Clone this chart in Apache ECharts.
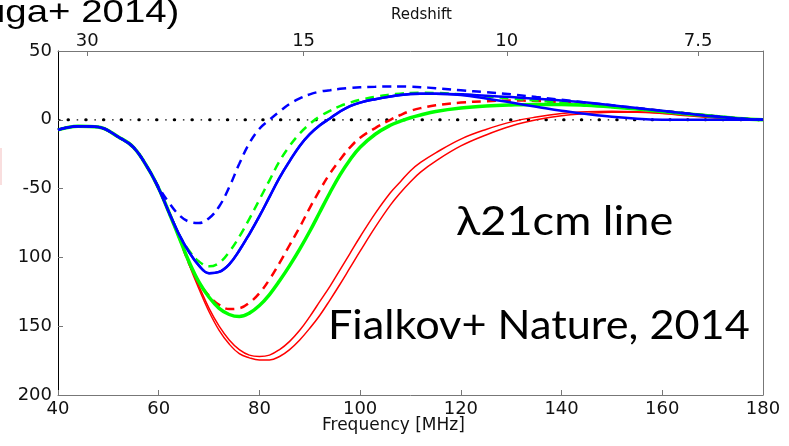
<!DOCTYPE html>
<html>
<head>
<meta charset="utf-8">
<script src="https://cdn.jsdelivr.net/npm/echarts@6/dist/echarts.min.js"></script>
<style>html,body{margin:0;padding:0;background:#fff;}#c{width:789px;height:446px;}</style>
</head>
<body>
<div id="c"></div>
<script>
// ---- data ----
const freq = [40,44,48,52,55,58,60,62,64,66,68,70,72,74,76,78,80,82,84,86,88,90,92,94,96,98,100,103,106,108,110,112,115,120,125,130,135,140,145,150,155,160,165,170,175,180];

const blueDashed = [-7.3,-4.6,-5.3,-12.5,-20,-36,-49,-60,-69,-74,-75,-71.5,-63,-49,-32,-17,-6.5,0,6,11.5,15.5,18.5,20.5,21.5,22.5,23.2,23.7,24,24.2,24.2,24,23.7,23,21.5,20,18.5,16.5,14.5,12.5,10.5,8.5,6.5,4.5,2.7,1,0];
const blueSolid = [-7.3,-4.6,-5.3,-12.5,-20,-36,-50,-67,-83,-96,-106,-111.5,-110.5,-105,-95,-83,-70,-56,-42,-30,-19,-10.5,-4,1,6,10,12.5,15,17,18,18.7,19,19,18.5,17.5,16.5,15.3,14,12.5,10.5,8.5,6.5,4.5,2.5,1,0];
const blueSolid2 = [-7.3,-4.6,-5.3,-12.5,-20,-36,-50,-67,-83,-96,-106,-111.5,-110.5,-105,-95,-83,-70,-56,-42,-30,-19,-10.5,-4,1,6,10,12.5,15,17,18,18.7,19,19,18,15.5,12.5,9.5,6.5,4.2,2.2,0.8,0.1,0,0,0,0];
const greenDashed = [-7.3,-4.6,-5.3,-12.5,-20,-36,-50,-67,-83,-95,-103,-106.5,-104,-96,-85,-72,-58,-44,-30,-19,-10,-3,2.5,6.5,10,12.5,14.5,16.8,18.3,19,19.5,19.6,19.5,18.5,17,15.5,14,12.5,11,9.5,8,6.2,4.5,2.8,1.2,0];
const greenSolid = [-7.3,-4.6,-5.3,-12.5,-20,-36,-50,-67,-85,-103,-118,-129,-137,-141.5,-143,-140.5,-135,-127,-117,-106,-94,-81,-67,-53,-40,-29,-20,-10.5,-4,-1,1.5,3.5,6,8.5,10,10.8,11.2,11.2,10.5,9.3,7.8,6,4.3,2.6,1,0];
const redDashed = [-7.3,-4.6,-5.3,-12.5,-20,-36,-50,-67,-85,-104,-118,-128,-134.5,-137.5,-137,-133,-126,-116,-104,-91,-78,-64,-51,-39,-29,-20,-13,-6,0,3.5,6.5,8.5,10.5,12.5,13.5,14,13.7,12.8,11.5,10,8.3,6.5,4.6,2.8,1.1,0];
const redSolid1 = [-7.3,-4.6,-5.3,-12.5,-20,-36,-50,-67,-85,-104,-121,-137,-150,-160,-167,-171,-172,-171,-167,-161,-153,-143,-132,-121,-109,-97,-85,-68,-53,-45,-37,-31,-24,-14,-7,-1.5,2,4.5,5.8,6.2,5.8,4.8,3.3,1.8,0.6,0];
const redSolid2 = [-7.3,-4.6,-5.3,-12.5,-20,-36,-50,-67,-85,-105,-123,-139.5,-153,-163,-170,-173,-174.5,-174.5,-172,-167,-160,-151.5,-142,-131,-119.5,-107.5,-95.5,-78,-62,-53,-45,-38,-30,-19,-11,-4.5,0,3,4.5,5.5,5.5,4.5,3,1.5,0.5,0];
const zeroLine = [[40,0],[180,0]];

const yTickValues = [-200,-150,-100,-50,0,50];
const yTickLabels = ['200','150','100','-50','0','50'];
const redshiftTicks = [30,15,10,7.5];
const redshiftLabels = ['30','15','10','7.5'];
const nu21 = 1420.4;

// ---- chart ----
const redshiftFreqs = redshiftTicks.map(z => nu21 / (1 + z));
const AX = '"DejaVu Sans", "Liberation Sans", sans-serif';
const BIG = 'Lato, "Open Sans", sans-serif';

function line(values, color, dashed, width) {
  return {
    type: 'line', xAxisIndex: 0, yAxisIndex: 0,
    data: freq.map((f, i) => [f, values[i]]),
    showSymbol: false, smooth: 0.4, silent: true,
    lineStyle: { color: color, width: width, type: dashed ? [9, 6] : 'solid', cap: 'butt' },
    z: 3
  };
}

const chart = echarts.init(document.getElementById('c'));
chart.setOption({
  animation: false,
  backgroundColor: '#ffffff',
  grid: { left: 58, right: 26, top: 51, bottom: 51, containLabel: false },
  xAxis: [{
    type: 'value', min: 40, max: 180, interval: 20, position: 'bottom',
    axisLine: { show: true, onZero: false, lineStyle: { color: '#777', width: 1 } },
    axisTick: { show: true, inside: true, length: 5, lineStyle: { color: '#777' } },
    axisLabel: { color: '#111', fontFamily: AX, fontSize: 18, margin: 5 },
    splitLine: { show: false }
  }, {
    type: 'value', min: 40, max: 180, position: 'top',
    axisLine: { show: true, onZero: false, lineStyle: { color: '#777', width: 1 } },
    axisTick: { show: true, inside: true, length: 5, customValues: redshiftFreqs, lineStyle: { color: '#777' } },
    axisLabel: {
      color: '#111', fontFamily: AX, fontSize: 18, margin: 1, customValues: redshiftFreqs,
      formatter: function (v) {
        let best = 0;
        redshiftFreqs.forEach((f, i) => { if (Math.abs(f - v) < Math.abs(redshiftFreqs[best] - v)) best = i; });
        return redshiftLabels[best];
      }
    },
    splitLine: { show: false }
  }],
  yAxis: [{
    type: 'value', min: -200, max: 50, interval: 50, position: 'left',
    axisLine: { show: true, onZero: false, lineStyle: { color: '#000', width: 1 } },
    axisTick: { show: true, inside: true, length: 5, lineStyle: { color: '#777' } },
    axisLabel: {
      color: '#111', fontFamily: AX, fontSize: 18, margin: 6,
      formatter: function (v) { const i = yTickValues.indexOf(v); return i >= 0 ? yTickLabels[i] : ''; }
    },
    splitLine: { show: false }
  }, {
    type: 'value', min: -200, max: 50, position: 'right',
    axisLine: { show: true, onZero: false, lineStyle: { color: '#777', width: 1 } },
    axisTick: { show: false }, axisLabel: { show: false }, splitLine: { show: false }
  }],
  series: [
    { type: 'line', data: zeroLine, showSymbol: false, silent: true, z: 2,
      lineStyle: { color: '#000', width: 3, type: [0.5, 17.2], dashOffset: 7.7, cap: 'round' } },
    { type: 'line', data: zeroLine, showSymbol: false, silent: true, z: 2,
      lineStyle: { color: '#000', width: 1.2, type: [1.5, 16.2], dashOffset: -1, cap: 'butt' } },
    line(redSolid1, '#ff0000', false, 1.5),
    line(redSolid2, '#ff0000', false, 1.5),
    line(redDashed, '#ff0000', true, 2.5),
    line(greenSolid, '#00ff00', false, 3.5),
    line(greenDashed, '#00ff00', true, 2.5),
    line(blueSolid2, '#0000ff', false, 2.5),
    line(blueSolid, '#0000ff', false, 2.5),
    line(blueDashed, '#0000ff', true, 2.5)
  ],
  graphic: [
    { type: 'text', x: 391, y: 8, style: { text: 'Redshift', font: '15px ' + AX, fill: '#111', verticalAlign: 'top' } },
    { type: 'text', x: 322, y: 417, style: { text: 'Frequency [MHz]', font: '17px ' + AX, fill: '#111', verticalAlign: 'top' } },
    { type: 'text', x: -16, y: -3, scaleX: 1.2, style: { text: 'uga+ 2014)', font: '32px "Liberation Sans", Arial, sans-serif', fill: '#000', verticalAlign: 'top' } },
    { type: 'rect', shape: { x: 0, y: 148, width: 2, height: 37 }, style: { fill: '#f9dede' } },
    { type: 'text', x: 456, y: 201, z: 10, scaleX: 1.1, style: { text: 'λ21cm line', font: '41px ' + BIG, fill: '#000', verticalAlign: 'top' } },
    { type: 'text', x: 328, y: 305, z: 10, scaleX: 1.055, style: { text: 'Fialkov+ Nature, 2014', font: '41px ' + BIG, fill: '#000', verticalAlign: 'top' } }
  ]
});
</script>
</body>
</html>
